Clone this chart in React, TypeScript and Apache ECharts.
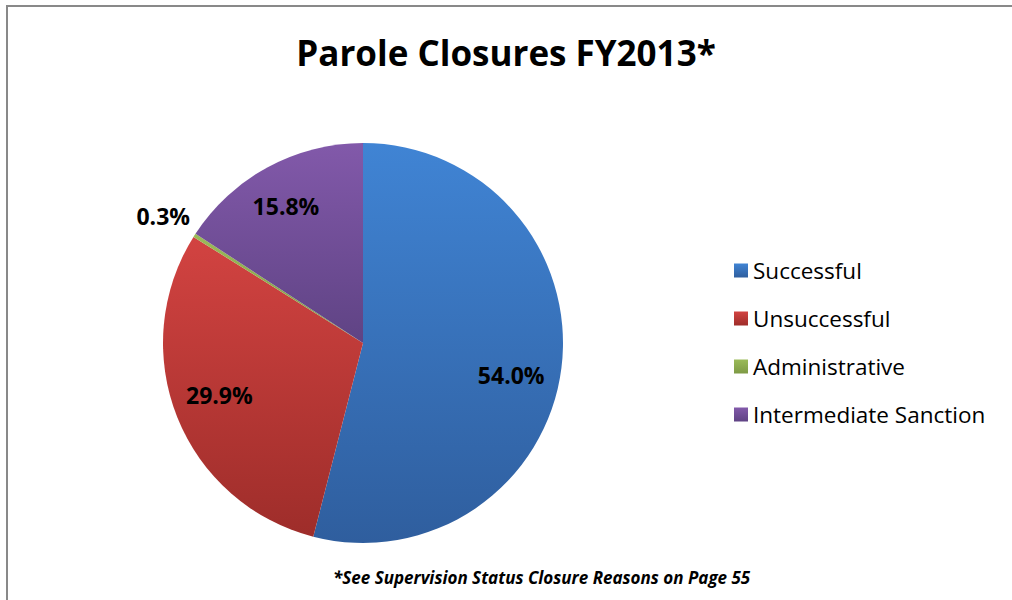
import React, { useEffect, useRef } from "react";
import * as echarts from "echarts";

const categories = ["Successful", "Unsuccessful", "Administrative", "Intermediate Sanction"];
const values = [54.0, 29.9, 0.3, 15.8];
const colorTop = ["#4084D4", "#D24341", "#9BBB59", "#8259AA"];
const colorBottom = ["#2F5E9E", "#9E2D2A", "#7E9A45", "#5F4384"];
const labelDx = [46, -48, 9, -28];
const labelDy = [19, 14, -14, -46];

const FONT = "'Open Sans', Lato, sans-serif";

export default function App() {
  const ref = useRef<HTMLDivElement>(null);
  useEffect(() => {
    document.body.style.margin = "0";
    const chart = echarts.init(ref.current!, null, { renderer: "svg" });
    const data = categories.map((name, i) => ({
      name,
      value: values[i],
      itemStyle: {
        color: new echarts.graphic.LinearGradient(0, 0, 0, 1, [
          { offset: 0, color: colorTop[i] },
          { offset: 1, color: colorBottom[i] },
        ]),
      },
      label:
        i === 2
          ? { position: "outside" as const }
          : { position: "inside" as const },
      labelLine: { show: false, length: 10, length2: 0 },
    }));
    chart.setOption({
      animation: false,
      backgroundColor: "#ffffff",
      title: {
        text: "Parole Closures FY2013*",
        left: "center",
        top: 30,
        textStyle: { fontFamily: FONT, fontSize: 35, fontWeight: "bold", color: "#000" },
      },
      legend: {
        orient: "vertical",
        left: 729,
        top: 254,
        itemWidth: 14,
        itemHeight: 14,
        itemGap: 25,
        icon: "rect",
        textStyle: { fontFamily: FONT, fontSize: 22.5, color: "#000", padding: [0, 0, 0, 0] },
        data: categories,
      },
      graphic: [
        {
          type: "rect",
          shape: { x: 7, y: 6, width: 1030, height: 640 },
          style: { fill: "none", stroke: "#898989", lineWidth: 2 },
        },
        {
          type: "text",
          left: 333,
          top: 569,
          style: {
            text: "*See Supervision Status Closure Reasons on Page 55",
            fontFamily: FONT,
            fontSize: 17,
            fontWeight: "bold",
            fontStyle: "italic",
            fill: "#000",
          },
        },
      ],
      series: [
        {
          type: "pie",
          center: [363, 343],
          radius: 200,
          startAngle: 90,
          clockwise: true,
          avoidLabelOverlap: false,
          label: {
            show: true,
            formatter: (p: any) => p.value.toFixed(1) + "%",
            fontFamily: FONT,
            fontSize: 23,
            fontWeight: "bold",
            color: "#000",
          },
          labelLayout: (p: any) => ({ dx: labelDx[p.dataIndex], dy: labelDy[p.dataIndex] }),
          itemStyle: { borderWidth: 0 },
          emphasis: { disabled: true },
          data,
        },
      ],
    });
    return () => chart.dispose();
  }, []);
  return <div ref={ref} style={{ width: 1012, height: 600 }} />;
}
